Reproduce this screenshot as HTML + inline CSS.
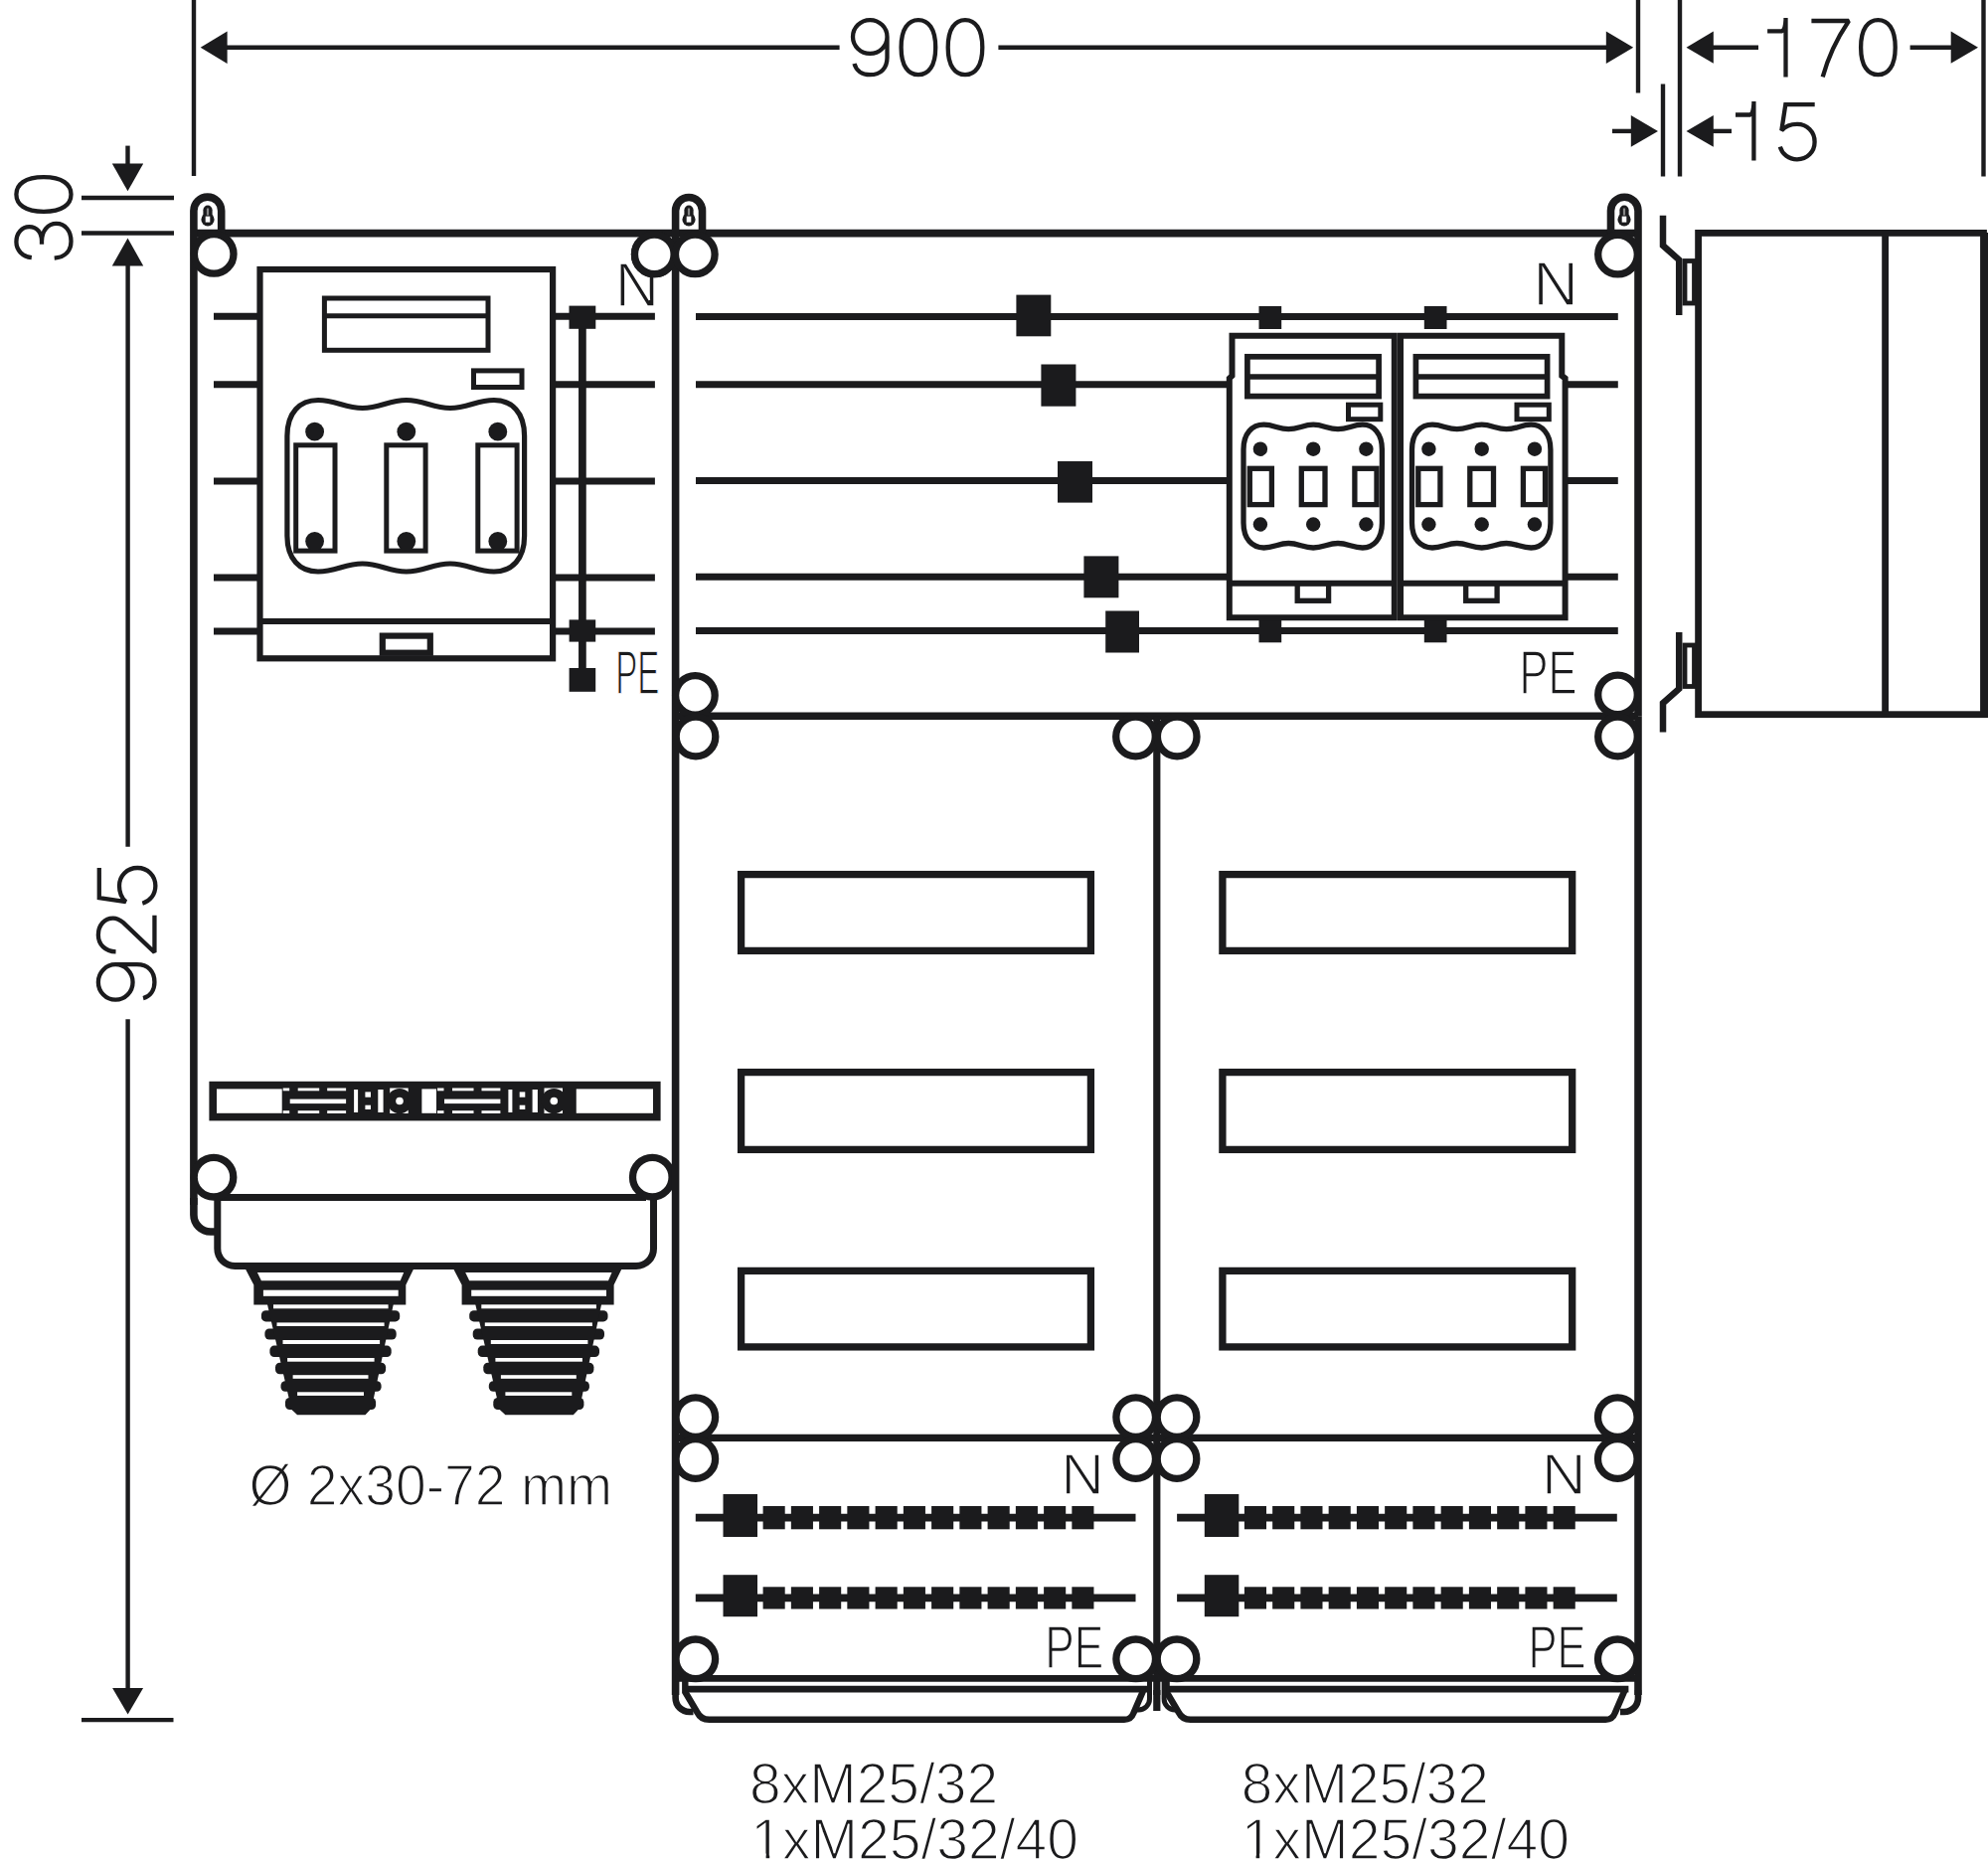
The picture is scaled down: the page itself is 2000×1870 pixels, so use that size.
<!DOCTYPE html>
<html><head><meta charset="utf-8"><style>
html,body{margin:0;padding:0;background:#fff;width:2000px;height:1870px;overflow:hidden}
svg{display:block}
text{font-family:"Liberation Sans",sans-serif;paint-order:normal}
</style></head><body>
<svg width="2000" height="1870" viewBox="0 0 2000 1870" stroke="#1b1b1d" fill="none" stroke-linecap="butt">
<rect x="0" y="0" width="2000" height="1870" fill="#fff" stroke="none"/>
<text x="618.8" y="307.5" font-size="63.114" textLength="44.369" lengthAdjust="spacingAndGlyphs" fill="#1b1b1d" stroke="#fff" stroke-width="1.6">N</text>
<text x="619.2" y="697.6" font-size="62.444" textLength="44.287" lengthAdjust="spacingAndGlyphs" fill="#1b1b1d" stroke="#fff" stroke-width="1.6">PE</text>
<text x="1542.2" y="306.9" font-size="63.114" textLength="45.802" lengthAdjust="spacingAndGlyphs" fill="#1b1b1d" stroke="#fff" stroke-width="1.6">N</text>
<text x="1528.6" y="697.6" font-size="62.444" textLength="58.026" lengthAdjust="spacingAndGlyphs" fill="#1b1b1d" stroke="#fff" stroke-width="1.6">PE</text>
<text x="1067.3" y="1502.7" font-size="58.071" textLength="43.719" lengthAdjust="spacingAndGlyphs" fill="#1b1b1d" stroke="#fff" stroke-width="1.6">N</text>
<text x="1051.3" y="1678.4" font-size="60.906" textLength="59.07" lengthAdjust="spacingAndGlyphs" fill="#1b1b1d" stroke="#fff" stroke-width="1.6">PE</text>
<text x="1550.7" y="1502.7" font-size="58.071" textLength="45.082" lengthAdjust="spacingAndGlyphs" fill="#1b1b1d" stroke="#fff" stroke-width="1.6">N</text>
<text x="1537.5" y="1678.4" font-size="60.906" textLength="58.116" lengthAdjust="spacingAndGlyphs" fill="#1b1b1d" stroke="#fff" stroke-width="1.6">PE</text>
<text x="754.1" y="1814.0" font-size="57.157" textLength="250.006" lengthAdjust="spacingAndGlyphs" fill="#1b1b1d" stroke="#fff" stroke-width="1.6">8xM25/32</text>
<text x="755.2" y="1870.0" font-size="57.177" textLength="329.881" lengthAdjust="spacingAndGlyphs" fill="#1b1b1d" stroke="#fff" stroke-width="1.6">1xM25/32/40</text>
<text x="1248.8" y="1814.0" font-size="57.157" textLength="248.98" lengthAdjust="spacingAndGlyphs" fill="#1b1b1d" stroke="#fff" stroke-width="1.6">8xM25/32</text>
<text x="1248.7" y="1870.0" font-size="57.177" textLength="330.417" lengthAdjust="spacingAndGlyphs" fill="#1b1b1d" stroke="#fff" stroke-width="1.6">1xM25/32/40</text>
<text x="250.4" y="1514.4" font-size="57.979" textLength="365.715" lengthAdjust="spacingAndGlyphs" fill="#1b1b1d" stroke="#fff" stroke-width="1.6">Ø 2x30-72 mm</text>
<rect x="757" y="1864.5" width="13.6" height="6.5" fill="#fff" stroke="none"/>
<rect x="774.2" y="1864.5" width="11.8" height="6.5" fill="#fff" stroke="none"/>
<rect x="1250" y="1864.5" width="13.6" height="6.5" fill="#fff" stroke="none"/>
<rect x="1267.2" y="1864.5" width="13.8" height="6.5" fill="#fff" stroke="none"/>
<path d="M19.55,2.2 C29.1,2.2 36.8,9.8 36.8,19.1 C36.8,28.4 29.1,36 19.55,36 C10,36 2.3,28.4 2.3,19.1 C2.3,9.8 10,2.2 19.55,2.2 Z M36.8,19.1 L36.8,40 C36.8,51 30,57.3 19.5,57.3 C11.5,57.3 5.5,53 3.8,46.2" transform="matrix(1.0,0,0,1.0,855.7,17.9)" stroke-width="4.300" fill="none" stroke-linejoin="miter" stroke-miterlimit="1.6"/>
<path d="M19.5,2.2 C29.5,2.2 36.8,10.8 36.8,29.75 C36.8,48.7 29.5,57.3 19.5,57.3 C9.5,57.3 2.2,48.7 2.2,29.75 C2.2,10.8 9.5,2.2 19.5,2.2 Z" transform="matrix(1.0,0,0,1.0,904.4,17.9)" stroke-width="4.300" fill="none" stroke-linejoin="miter" stroke-miterlimit="1.6"/>
<path d="M19.5,2.2 C29.5,2.2 36.8,10.8 36.8,29.75 C36.8,48.7 29.5,57.3 19.5,57.3 C9.5,57.3 2.2,48.7 2.2,29.75 C2.2,10.8 9.5,2.2 19.5,2.2 Z" transform="matrix(1.0,0,0,1.0,951.5,17.9)" stroke-width="4.300" fill="none" stroke-linejoin="miter" stroke-miterlimit="1.6"/>
<path d="M18.4,0 L18.4,59.5 M0,13.4 L14.6,13.4 C16.6,12.6 18,9 18.4,2" transform="matrix(1.0,0,0,1.0,1778.1,17.9)" stroke-width="4.300" fill="none" stroke-linejoin="miter" stroke-miterlimit="1.6"/>
<path d="M0,3.1 L37.6,3.1 C33,10 20,28 11.3,59.5" transform="matrix(1.0,0,0,1.0,1822.4,17.9)" stroke-width="4.300" fill="none" stroke-linejoin="miter" stroke-miterlimit="1.6"/>
<path d="M19.5,2.2 C29.5,2.2 36.8,10.8 36.8,29.75 C36.8,48.7 29.5,57.3 19.5,57.3 C9.5,57.3 2.2,48.7 2.2,29.75 C2.2,10.8 9.5,2.2 19.5,2.2 Z" transform="matrix(1.0,0,0,1.0,1869.9,17.9)" stroke-width="4.300" fill="none" stroke-linejoin="miter" stroke-miterlimit="1.6"/>
<path d="M18.4,0 L18.4,59.5 M0,13.4 L14.6,13.4 C16.6,12.6 18,9 18.4,2" transform="matrix(1.0,0,0,1.0,1746,102.1)" stroke-width="4.300" fill="none" stroke-linejoin="miter" stroke-miterlimit="1.6"/>
<path d="M37.7,3.1 L8.3,3.1 L4.3,29.3 C8,25 13.5,22.8 20,22.8 C30,22.8 37.6,30.5 37.6,40.6 C37.6,50.7 30,58.2 20,58.2 C11.5,58.2 5,53 2.8,45.5" transform="matrix(1.0,0,0,1.0,1788,102.1)" stroke-width="4.300" fill="none" stroke-linejoin="miter" stroke-miterlimit="1.6"/>
<path d="M3.4,17.6 C4.6,8.2 11,2.2 19.3,2.2 C28.3,2.2 34.4,8 34.4,15.2 C34.4,23 28.6,27.8 20,27.8 L16.8,27.8 M20,27.8 C30.5,27.8 37.7,34 37.7,42.5 C37.7,51.5 30,57.3 19.8,57.3 C10,57.3 3.8,51 2.9,40.5" transform="matrix(0,-1.0,1.0,0,14.2,262.6)" stroke-width="4.300" fill="none" stroke-linejoin="miter" stroke-miterlimit="1.6"/>
<path d="M19.5,2.2 C29.5,2.2 36.8,10.8 36.8,29.75 C36.8,48.7 29.5,57.3 19.5,57.3 C9.5,57.3 2.2,48.7 2.2,29.75 C2.2,10.8 9.5,2.2 19.5,2.2 Z" transform="matrix(0,-1.0,1.0,0,14.2,215)" stroke-width="4.300" fill="none" stroke-linejoin="miter" stroke-miterlimit="1.6"/>
<path d="M19.55,2.2 C29.1,2.2 36.8,9.8 36.8,19.1 C36.8,28.4 29.1,36 19.55,36 C10,36 2.3,28.4 2.3,19.1 C2.3,9.8 10,2.2 19.55,2.2 Z M36.8,19.1 L36.8,40 C36.8,51 30,57.3 19.5,57.3 C11.5,57.3 5.5,53 3.8,46.2" transform="matrix(0,-1.027,1.027,0,96.6,1008)" stroke-width="4.187" fill="none" stroke-linejoin="miter" stroke-miterlimit="1.6"/>
<path d="M2.8,19.4 C3.2,9 10,2.2 19.3,2.2 C29,2.2 35.8,8.5 35.8,16.8 C35.8,21 34.5,23 31.5,26.5 L2.2,57.3 L38.4,57.3" transform="matrix(0,-1.027,1.027,0,96.6,960.3)" stroke-width="4.187" fill="none" stroke-linejoin="miter" stroke-miterlimit="1.6"/>
<path d="M37.7,3.1 L8.3,3.1 L4.3,29.3 C8,25 13.5,22.8 20,22.8 C30,22.8 37.6,30.5 37.6,40.6 C37.6,50.7 30,58.2 20,58.2 C11.5,58.2 5,53 2.8,45.5" transform="matrix(0,-1.027,1.027,0,96.6,911.6)" stroke-width="4.187" fill="none" stroke-linejoin="miter" stroke-miterlimit="1.6"/>
<line x1="195" y1="0" x2="195" y2="177" stroke-width="4.4"/>
<line x1="1648" y1="0" x2="1648" y2="93.5" stroke-width="4.4"/>
<line x1="1690" y1="0" x2="1690" y2="177.5" stroke-width="4.4"/>
<line x1="1995.5" y1="0" x2="1995.5" y2="177.5" stroke-width="4.4"/>
<line x1="1673" y1="84.5" x2="1673" y2="177.5" stroke-width="4.4"/>
<line x1="226" y1="47.8" x2="844.6" y2="47.8" stroke-width="4.4"/>
<line x1="1004.4" y1="47.8" x2="1618" y2="47.8" stroke-width="4.4"/>
<polygon points="201.7,47.8 228.6,31.5 228.6,64.1" fill="#1b1b1d" stroke="none"/>
<polygon points="1643.2,47.8 1615.8,31.5 1615.8,64.1" fill="#1b1b1d" stroke="none"/>
<line x1="1720" y1="47.7" x2="1769" y2="47.7" stroke-width="4.4"/>
<line x1="1921.6" y1="47.7" x2="1965" y2="47.7" stroke-width="4.4"/>
<polygon points="1696.5,47.7 1723.8,31.6 1723.8,63.8" fill="#1b1b1d" stroke="none"/>
<polygon points="1990,47.7 1962.7,31.6 1962.7,63.8" fill="#1b1b1d" stroke="none"/>
<line x1="1622" y1="131.9" x2="1643" y2="131.9" stroke-width="4.4"/>
<line x1="1720" y1="131.9" x2="1742" y2="131.9" stroke-width="4.4"/>
<polygon points="1668,131.9 1640.8,116 1640.8,147.8" fill="#1b1b1d" stroke="none"/>
<polygon points="1696.5,131.9 1723.8,116 1723.8,147.8" fill="#1b1b1d" stroke="none"/>
<line x1="82" y1="199" x2="175" y2="199" stroke-width="4.4"/>
<line x1="82" y1="234.5" x2="175" y2="234.5" stroke-width="4.4"/>
<line x1="128.5" y1="146.6" x2="128.5" y2="166" stroke-width="4.4"/>
<polygon points="128.5,192.3 112.8,164.6 144.2,164.6" fill="#1b1b1d" stroke="none"/>
<polygon points="128.5,239.4 112.8,267.6 144.2,267.6" fill="#1b1b1d" stroke="none"/>
<line x1="128.6" y1="265" x2="128.6" y2="851.7" stroke-width="4.4"/>
<line x1="128.6" y1="1025.2" x2="128.6" y2="1700" stroke-width="4.4"/>
<polygon points="128.6,1724.6 113.1,1698 144.1,1698" fill="#1b1b1d" stroke="none"/>
<line x1="82" y1="1730.1" x2="174.5" y2="1730.1" stroke-width="4.4"/>
<line x1="195" y1="234.6" x2="679.5" y2="234.6" stroke-width="7.6"/>
<path d="M194.9,1212 L194.9,212 A13.9,13.9 0 0 1 222.7,212 L222.7,234.6" stroke-width="7.6" fill="none"/>
<path d="M194.9,1205 L194.9,1222 A17,17 0 0 0 211.9,1239 L219,1239" stroke-width="7.6" fill="none"/>
<line x1="215" y1="318.2" x2="260" y2="318.2" stroke-width="7.0"/>
<line x1="556" y1="318.2" x2="658.9" y2="318.2" stroke-width="7.0"/>
<line x1="215" y1="386.8" x2="260" y2="386.8" stroke-width="7.0"/>
<line x1="556" y1="386.8" x2="658.9" y2="386.8" stroke-width="7.0"/>
<line x1="215" y1="483.9" x2="260" y2="483.9" stroke-width="7.0"/>
<line x1="556" y1="483.9" x2="658.9" y2="483.9" stroke-width="7.0"/>
<line x1="215" y1="580.9" x2="260" y2="580.9" stroke-width="7.0"/>
<line x1="556" y1="580.9" x2="658.9" y2="580.9" stroke-width="7.0"/>
<line x1="215" y1="635.0" x2="260" y2="635.0" stroke-width="7.0"/>
<line x1="556" y1="635.0" x2="658.9" y2="635.0" stroke-width="7.0"/>
<rect x="261.5" y="271" width="294.6" height="391.3" stroke-width="6.2" fill="#fff"/>
<line x1="261.5" y1="625" x2="556.1" y2="625" stroke-width="6.2"/>
<rect x="384.8" y="639.6" width="48.0" height="17.1" stroke-width="6.2" fill="none"/>
<rect x="326.4" y="300" width="164.6" height="52.3" stroke-width="5.0" fill="none"/>
<line x1="326.4" y1="317.8" x2="491" y2="317.8" stroke-width="5.0"/>
<rect x="476.5" y="372.9" width="48.5" height="16.6" stroke-width="5.0" fill="none"/>
<path d="M288.9,438.5 C288.9,415.1 301.5,402.5 320,402.5 C337.88,402.5 346.82,410.5 364.7,410.5 C382.34,410.5 391.16,402.5 408.8,402.5 C426.44,402.5 435.26,410.5 452.9,410.5 C470.53999999999996,410.5 479.36,402.5 497,402.5 C515.0,402.5 527.6,415.1 527.6,438.5 L527.6,539 C527.6,562.4 515.0,575 497,575 C479.36,575.0 470.53999999999996,567.0 452.9,567.0 C435.26,567.0 426.44,575.0 408.8,575.0 C391.16,575.0 382.34,567.0 364.7,567.0 C346.82,567.0 337.88,575.0 320,575.0 C301.5,575 288.9,562.4 288.9,539 Z" stroke-width="5.2" fill="none"/>
<rect x="297.7" y="447.8" width="39.3" height="106.3" stroke-width="5.0" fill="none"/>
<rect x="388.8" y="447.8" width="39.3" height="106.3" stroke-width="5.0" fill="none"/>
<rect x="480.8" y="447.8" width="39.3" height="106.3" stroke-width="5.0" fill="none"/>
<circle cx="316.6" cy="434.2" r="9.4" fill="#1b1b1d" stroke="none"/>
<circle cx="316.6" cy="544.5" r="9.4" fill="#1b1b1d" stroke="none"/>
<circle cx="408.8" cy="434.2" r="9.4" fill="#1b1b1d" stroke="none"/>
<circle cx="408.8" cy="544.5" r="9.4" fill="#1b1b1d" stroke="none"/>
<circle cx="500.8" cy="434.2" r="9.4" fill="#1b1b1d" stroke="none"/>
<circle cx="500.8" cy="544.5" r="9.4" fill="#1b1b1d" stroke="none"/>
<line x1="585.9" y1="318" x2="585.9" y2="684" stroke-width="7.7"/>
<rect x="572.5" y="307.6" width="26.8" height="23.2" fill="#1b1b1d" stroke="none"/>
<rect x="572.6" y="623.4" width="26.6" height="22.2" fill="#1b1b1d" stroke="none"/>
<rect x="572.6" y="672.0" width="26.6" height="23.8" fill="#1b1b1d" stroke="none"/>
<rect x="214.2" y="1091.6" width="446.6" height="32.0" stroke-width="7.6" fill="#fff"/>
<rect x="283.7" y="1094" width="140.5" height="27" fill="#1b1b1d" stroke="none"/>
<rect x="291.7" y="1105.6" width="56.4" height="4.5" fill="#fff" stroke="none"/>
<rect x="284.7" y="1094.5" width="6.5" height="2.8" fill="#fff" stroke="none"/>
<rect x="284.7" y="1117.2" width="6.5" height="2.8" fill="#fff" stroke="none"/>
<rect x="299.7" y="1094.5" width="21.5" height="2.8" fill="#fff" stroke="none"/>
<rect x="299.7" y="1117.2" width="21.5" height="2.8" fill="#fff" stroke="none"/>
<rect x="329.2" y="1094.5" width="18.9" height="2.8" fill="#fff" stroke="none"/>
<rect x="329.2" y="1117.2" width="18.9" height="2.8" fill="#fff" stroke="none"/>
<rect x="356.1" y="1096" width="4.0" height="23" fill="#fff" stroke="none"/>
<rect x="367.4" y="1098.4" width="5.6" height="5.3" fill="#fff" stroke="none"/>
<rect x="367.4" y="1111.7" width="5.6" height="4.3" fill="#fff" stroke="none"/>
<rect x="380.29999999999995" y="1096" width="5.3" height="23" fill="#fff" stroke="none"/>
<rect x="392.2" y="1094.5" width="24.5" height="25.5" fill="#fff" stroke="none"/>
<circle cx="402.0" cy="1107.5" r="12.6" fill="#1b1b1d" stroke="none"/>
<circle cx="402.0" cy="1107.5" r="3.8" fill="#fff" stroke="none"/>
<rect x="410.7" y="1094" width="13.5" height="27" fill="#1b1b1d" stroke="none"/>
<rect x="439.0" y="1094" width="140.5" height="27" fill="#1b1b1d" stroke="none"/>
<rect x="447.0" y="1105.6" width="56.4" height="4.5" fill="#fff" stroke="none"/>
<rect x="440.0" y="1094.5" width="6.5" height="2.8" fill="#fff" stroke="none"/>
<rect x="440.0" y="1117.2" width="6.5" height="2.8" fill="#fff" stroke="none"/>
<rect x="455.0" y="1094.5" width="21.5" height="2.8" fill="#fff" stroke="none"/>
<rect x="455.0" y="1117.2" width="21.5" height="2.8" fill="#fff" stroke="none"/>
<rect x="484.5" y="1094.5" width="18.9" height="2.8" fill="#fff" stroke="none"/>
<rect x="484.5" y="1117.2" width="18.9" height="2.8" fill="#fff" stroke="none"/>
<rect x="511.4" y="1096" width="4.0" height="23" fill="#fff" stroke="none"/>
<rect x="522.7" y="1098.4" width="5.6" height="5.3" fill="#fff" stroke="none"/>
<rect x="522.7" y="1111.7" width="5.6" height="4.3" fill="#fff" stroke="none"/>
<rect x="535.6" y="1096" width="5.3" height="23" fill="#fff" stroke="none"/>
<rect x="547.5" y="1094.5" width="24.5" height="25.5" fill="#fff" stroke="none"/>
<circle cx="557.3" cy="1107.5" r="12.6" fill="#1b1b1d" stroke="none"/>
<circle cx="557.3" cy="1107.5" r="3.8" fill="#fff" stroke="none"/>
<rect x="566.0" y="1094" width="13.5" height="27" fill="#1b1b1d" stroke="none"/>
<path d="M218.8,1204.4 L218.8,1256 A17.5,17.5 0 0 0 236.3,1273.5 L640,1273.5 A17.5,17.5 0 0 0 657.5,1256 L657.5,1204.4" stroke-width="7.0" fill="none"/>
<line x1="218" y1="1204.4" x2="650" y2="1204.4" stroke-width="7.0"/>
<polygon points="244.6,1272 418.3,1272 408.3,1292.5 408.3,1312.5 255.3,1312.5 255.3,1292.5" fill="#1b1b1d" stroke="none"/>
<rect x="262.9" y="1318.3" width="139.3" height="11.1" rx="4.5" fill="#1b1b1d" stroke="none"/>
<rect x="266.4" y="1336.5" width="132.3" height="11.0" rx="4.5" fill="#1b1b1d" stroke="none"/>
<rect x="271.4" y="1353.6" width="122.3" height="11.5" rx="4.5" fill="#1b1b1d" stroke="none"/>
<rect x="277" y="1370.7" width="111.1" height="11.5" rx="4.5" fill="#1b1b1d" stroke="none"/>
<rect x="282.5" y="1389.3" width="101.1" height="10.5" rx="4.5" fill="#1b1b1d" stroke="none"/>
<rect x="287" y="1405.9" width="91.1" height="12.1" rx="4.5" fill="#1b1b1d" stroke="none"/>
<polygon points="268.5,1310 396.2,1310 375.6,1408 291,1408" fill="#1b1b1d" stroke="none"/>
<polygon points="287,1412 378.1,1412 367.5,1423.2 299.1,1423.2" fill="#1b1b1d" stroke="none"/>
<polygon points="258.9,1280.1 406.2,1280.1 402.7,1288.2 262.9,1288.2" fill="#fff" stroke="none"/>
<rect x="264.9" y="1297.7" width="135.8" height="6.1" fill="#fff" stroke="none"/>
<rect x="275" y="1312.3" width="115.6" height="4.0" fill="#fff" stroke="none"/>
<rect x="278.5" y="1330.4" width="108.1" height="3.6" fill="#fff" stroke="none"/>
<rect x="284.5" y="1348" width="97.6" height="4" fill="#fff" stroke="none"/>
<rect x="289.1" y="1366" width="87.5" height="3.7" fill="#fff" stroke="none"/>
<rect x="294.6" y="1383.2" width="75.9" height="3.6" fill="#fff" stroke="none"/>
<rect x="299.1" y="1400.3" width="66.9" height="3.6" fill="#fff" stroke="none"/>
<polygon points="453.9,1272 627.6,1272 617.6,1292.5 617.6,1312.5 464.6,1312.5 464.6,1292.5" fill="#1b1b1d" stroke="none"/>
<rect x="472.2" y="1318.3" width="139.3" height="11.1" rx="4.5" fill="#1b1b1d" stroke="none"/>
<rect x="475.7" y="1336.5" width="132.3" height="11.0" rx="4.5" fill="#1b1b1d" stroke="none"/>
<rect x="480.7" y="1353.6" width="122.3" height="11.5" rx="4.5" fill="#1b1b1d" stroke="none"/>
<rect x="486.3" y="1370.7" width="111.1" height="11.5" rx="4.5" fill="#1b1b1d" stroke="none"/>
<rect x="491.8" y="1389.3" width="101.1" height="10.5" rx="4.5" fill="#1b1b1d" stroke="none"/>
<rect x="496.3" y="1405.9" width="91.1" height="12.1" rx="4.5" fill="#1b1b1d" stroke="none"/>
<polygon points="477.8,1310 605.5,1310 584.9000000000001,1408 500.3,1408" fill="#1b1b1d" stroke="none"/>
<polygon points="496.3,1412 587.4000000000001,1412 576.8,1423.2 508.40000000000003,1423.2" fill="#1b1b1d" stroke="none"/>
<polygon points="468.2,1280.1 615.5,1280.1 612.0,1288.2 472.2,1288.2" fill="#fff" stroke="none"/>
<rect x="474.2" y="1297.7" width="135.8" height="6.1" fill="#fff" stroke="none"/>
<rect x="484.3" y="1312.3" width="115.6" height="4.0" fill="#fff" stroke="none"/>
<rect x="487.8" y="1330.4" width="108.1" height="3.6" fill="#fff" stroke="none"/>
<rect x="493.8" y="1348" width="97.6" height="4" fill="#fff" stroke="none"/>
<rect x="498.40000000000003" y="1366" width="87.5" height="3.7" fill="#fff" stroke="none"/>
<rect x="503.90000000000003" y="1383.2" width="75.9" height="3.6" fill="#fff" stroke="none"/>
<rect x="508.40000000000003" y="1400.3" width="66.9" height="3.6" fill="#fff" stroke="none"/>
<circle cx="215.2" cy="255.4" r="19.8" fill="#fff" stroke-width="7.3"/>
<circle cx="658.3" cy="255.9" r="19.8" fill="#fff" stroke-width="7.3"/>
<circle cx="215.0" cy="1184.2" r="19.8" fill="#fff" stroke-width="7.3"/>
<circle cx="656.3" cy="1184.2" r="19.8" fill="#fff" stroke-width="7.3"/>
<line x1="679.5" y1="234.6" x2="1648" y2="234.6" stroke-width="7.6"/>
<path d="M679.6,1705 L679.6,212 A13.45,13.45 0 0 1 706.5,212 L706.5,234.6" stroke-width="7.6" fill="none"/>
<path d="M1648,720.3 L1648,212 A13.75,13.75 0 0 0 1620.5,212 L1620.5,234.6" stroke-width="7.6" fill="none"/>
<line x1="679.5" y1="720.3" x2="1648" y2="720.3" stroke-width="7.6"/>
<line x1="700" y1="318.6" x2="1627.8" y2="318.6" stroke-width="7.0"/>
<line x1="700" y1="634.5" x2="1627.8" y2="634.5" stroke-width="7.0"/>
<line x1="700" y1="386.7" x2="1236" y2="386.7" stroke-width="7.0"/>
<line x1="1576" y1="386.7" x2="1627.8" y2="386.7" stroke-width="7.0"/>
<line x1="700" y1="483.5" x2="1236" y2="483.5" stroke-width="7.0"/>
<line x1="1576" y1="483.5" x2="1627.8" y2="483.5" stroke-width="7.0"/>
<line x1="700" y1="580.3" x2="1236" y2="580.3" stroke-width="7.0"/>
<line x1="1576" y1="580.3" x2="1627.8" y2="580.3" stroke-width="7.0"/>
<rect x="1022.4" y="296.6" width="34.9" height="41.7" fill="#1b1b1d" stroke="none"/>
<rect x="1047.4" y="366.5" width="35.0" height="42.2" fill="#1b1b1d" stroke="none"/>
<rect x="1064" y="464" width="35" height="41.6" fill="#1b1b1d" stroke="none"/>
<rect x="1090.4" y="559.4" width="35.0" height="41.9" fill="#1b1b1d" stroke="none"/>
<rect x="1112.2" y="614.5" width="33.8" height="42.0" fill="#1b1b1d" stroke="none"/>
<rect x="1266.5" y="308" width="22.7" height="23" fill="#1b1b1d" stroke="none"/>
<rect x="1266.5" y="623.3" width="22.7" height="23.0" fill="#1b1b1d" stroke="none"/>
<rect x="1432.8" y="308" width="22.7" height="23" fill="#1b1b1d" stroke="none"/>
<rect x="1432.8" y="623.3" width="22.7" height="23.0" fill="#1b1b1d" stroke="none"/>
<path d="M1402.8,337.7 L1239.5,337.7 L1239.5,378 L1236.8,380.5 L1236.8,621.2 L1402.8,621.2 Z" stroke-width="6.0" fill="#fff"/>
<line x1="1236.8" y1="586.7" x2="1402.8" y2="586.7" stroke-width="6.0"/>
<rect x="1305.2" y="586.7" width="31.4" height="17.6" stroke-width="5.3" fill="none"/>
<rect x="1254.9" y="358.8" width="132.2" height="39.8" stroke-width="5.7" fill="none"/>
<line x1="1254.9" y1="379" x2="1387.1" y2="379" stroke-width="5.7"/>
<rect x="1356.5" y="407.2" width="32.3" height="14.5" stroke-width="5.0" fill="none"/>
<path d="M1251,452.2 C1251,435.95 1259.75,427.2 1271.5,427.2 C1281.42,427.2 1286.3799999999999,431.7 1296.3,431.7 C1306.26,431.7 1311.24,427.2 1321.2,427.2 C1331.1200000000001,427.2 1336.08,431.7 1346,431.7 C1355.92,431.7 1360.8799999999999,427.2 1370.8,427.2 C1381.65,427.2 1390.4,435.95 1390.4,452.2 L1390.4,526.0 C1390.4,542.25 1381.65,551.0 1370.8,551.0 C1360.8799999999999,551.0 1355.92,546.5 1346,546.5 C1336.08,546.5 1331.1200000000001,551.0 1321.2,551.0 C1311.24,551.0 1306.26,546.5 1296.3,546.5 C1286.3799999999999,546.5 1281.42,551.0 1271.5,551.0 C1259.75,551.0 1251,542.25 1251,526.0 Z" stroke-width="5.3" fill="none"/>
<rect x="1257.3" y="471.3" width="22.1" height="36.3" stroke-width="5.3" fill="none"/>
<rect x="1309.3" y="471.3" width="23.7" height="36.3" stroke-width="5.3" fill="none"/>
<rect x="1362.9" y="471.3" width="22.1" height="36.3" stroke-width="5.3" fill="none"/>
<circle cx="1267.9" cy="451.7" r="7.2" fill="#1b1b1d" stroke="none"/>
<circle cx="1267.9" cy="527.5" r="7.2" fill="#1b1b1d" stroke="none"/>
<circle cx="1321.2" cy="451.7" r="7.2" fill="#1b1b1d" stroke="none"/>
<circle cx="1321.2" cy="527.5" r="7.2" fill="#1b1b1d" stroke="none"/>
<circle cx="1374.4" cy="451.7" r="7.2" fill="#1b1b1d" stroke="none"/>
<circle cx="1374.4" cy="527.5" r="7.2" fill="#1b1b1d" stroke="none"/>
<path d="M1409,337.7 L1571.3,337.7 L1571.3,378 L1574.6,380.5 L1574.6,621.2 L1409,621.2 Z" stroke-width="6.0" fill="#fff"/>
<line x1="1409" y1="586.7" x2="1574.6" y2="586.7" stroke-width="6.0"/>
<rect x="1474.7" y="586.7" width="31.4" height="17.6" stroke-width="5.3" fill="none"/>
<rect x="1424.4" y="358.8" width="132.2" height="39.8" stroke-width="5.7" fill="none"/>
<line x1="1424.4" y1="379" x2="1556.6" y2="379" stroke-width="5.7"/>
<rect x="1526.0" y="407.2" width="32.3" height="14.5" stroke-width="5.0" fill="none"/>
<path d="M1420.5,452.2 C1420.5,435.95 1429.25,427.2 1441.0,427.2 C1450.92,427.2 1455.8799999999999,431.7 1465.8,431.7 C1475.76,431.7 1480.74,427.2 1490.7,427.2 C1500.6200000000001,427.2 1505.58,431.7 1515.5,431.7 C1525.42,431.7 1530.3799999999999,427.2 1540.3,427.2 C1551.15,427.2 1559.9,435.95 1559.9,452.2 L1559.9,526.0 C1559.9,542.25 1551.15,551.0 1540.3,551.0 C1530.3799999999999,551.0 1525.42,546.5 1515.5,546.5 C1505.58,546.5 1500.6200000000001,551.0 1490.7,551.0 C1480.74,551.0 1475.76,546.5 1465.8,546.5 C1455.8799999999999,546.5 1450.92,551.0 1441.0,551.0 C1429.25,551.0 1420.5,542.25 1420.5,526.0 Z" stroke-width="5.3" fill="none"/>
<rect x="1426.8" y="471.3" width="22.1" height="36.3" stroke-width="5.3" fill="none"/>
<rect x="1478.8" y="471.3" width="23.7" height="36.3" stroke-width="5.3" fill="none"/>
<rect x="1532.4" y="471.3" width="22.1" height="36.3" stroke-width="5.3" fill="none"/>
<circle cx="1437.4" cy="451.7" r="7.2" fill="#1b1b1d" stroke="none"/>
<circle cx="1437.4" cy="527.5" r="7.2" fill="#1b1b1d" stroke="none"/>
<circle cx="1490.7" cy="451.7" r="7.2" fill="#1b1b1d" stroke="none"/>
<circle cx="1490.7" cy="527.5" r="7.2" fill="#1b1b1d" stroke="none"/>
<circle cx="1543.9" cy="451.7" r="7.2" fill="#1b1b1d" stroke="none"/>
<circle cx="1543.9" cy="527.5" r="7.2" fill="#1b1b1d" stroke="none"/>
<circle cx="658.3" cy="255.9" r="19.8" fill="#fff" stroke-width="7.3"/>
<circle cx="699.3" cy="255.9" r="19.8" fill="#fff" stroke-width="7.3"/>
<circle cx="1627.5" cy="256.1" r="19.8" fill="#fff" stroke-width="7.3"/>
<circle cx="699.4" cy="699.4" r="19.8" fill="#fff" stroke-width="7.3"/>
<circle cx="1627.5" cy="698.9" r="19.8" fill="#fff" stroke-width="7.3"/>
<line x1="1163.8" y1="720.3" x2="1163.8" y2="1705" stroke-width="7.2"/>
<line x1="1648" y1="720.3" x2="1648" y2="1705" stroke-width="7.6"/>
<line x1="679.5" y1="1446.4" x2="1648" y2="1446.4" stroke-width="7.2"/>
<line x1="679.5" y1="1688.4" x2="1648" y2="1688.4" stroke-width="6.8"/>
<rect x="745.6" y="879.6" width="351.8" height="76.8" stroke-width="7.3" fill="none"/>
<rect x="745.6" y="1078.6" width="351.8" height="77.8" stroke-width="7.3" fill="none"/>
<rect x="745.6" y="1278.4" width="351.8" height="76.5" stroke-width="7.3" fill="none"/>
<line x1="699.8" y1="1526.6" x2="1142.5" y2="1526.6" stroke-width="7.6"/>
<line x1="699.8" y1="1607.4" x2="1142.5" y2="1607.4" stroke-width="7.6"/>
<rect x="727.5" y="1503" width="34.5" height="43" fill="#1b1b1d" stroke="none"/>
<rect x="727.5" y="1584.2" width="34.5" height="42.0" fill="#1b1b1d" stroke="none"/>
<rect x="767.6" y="1515" width="22.1" height="23.3" fill="#1b1b1d" stroke="none"/>
<rect x="767.6" y="1596.3" width="22.1" height="22.2" fill="#1b1b1d" stroke="none"/>
<rect x="795.85" y="1515" width="22.1" height="23.3" fill="#1b1b1d" stroke="none"/>
<rect x="795.85" y="1596.3" width="22.1" height="22.2" fill="#1b1b1d" stroke="none"/>
<rect x="824.1" y="1515" width="22.1" height="23.3" fill="#1b1b1d" stroke="none"/>
<rect x="824.1" y="1596.3" width="22.1" height="22.2" fill="#1b1b1d" stroke="none"/>
<rect x="852.35" y="1515" width="22.1" height="23.3" fill="#1b1b1d" stroke="none"/>
<rect x="852.35" y="1596.3" width="22.1" height="22.2" fill="#1b1b1d" stroke="none"/>
<rect x="880.6" y="1515" width="22.1" height="23.3" fill="#1b1b1d" stroke="none"/>
<rect x="880.6" y="1596.3" width="22.1" height="22.2" fill="#1b1b1d" stroke="none"/>
<rect x="908.85" y="1515" width="22.1" height="23.3" fill="#1b1b1d" stroke="none"/>
<rect x="908.85" y="1596.3" width="22.1" height="22.2" fill="#1b1b1d" stroke="none"/>
<rect x="937.1" y="1515" width="22.1" height="23.3" fill="#1b1b1d" stroke="none"/>
<rect x="937.1" y="1596.3" width="22.1" height="22.2" fill="#1b1b1d" stroke="none"/>
<rect x="965.35" y="1515" width="22.1" height="23.3" fill="#1b1b1d" stroke="none"/>
<rect x="965.35" y="1596.3" width="22.1" height="22.2" fill="#1b1b1d" stroke="none"/>
<rect x="993.6" y="1515" width="22.1" height="23.3" fill="#1b1b1d" stroke="none"/>
<rect x="993.6" y="1596.3" width="22.1" height="22.2" fill="#1b1b1d" stroke="none"/>
<rect x="1021.85" y="1515" width="22.1" height="23.3" fill="#1b1b1d" stroke="none"/>
<rect x="1021.85" y="1596.3" width="22.1" height="22.2" fill="#1b1b1d" stroke="none"/>
<rect x="1050.1" y="1515" width="22.1" height="23.3" fill="#1b1b1d" stroke="none"/>
<rect x="1050.1" y="1596.3" width="22.1" height="22.2" fill="#1b1b1d" stroke="none"/>
<rect x="1078.35" y="1515" width="22.1" height="23.3" fill="#1b1b1d" stroke="none"/>
<rect x="1078.35" y="1596.3" width="22.1" height="22.2" fill="#1b1b1d" stroke="none"/>
<path d="M689.3,1699.2 L1154.1,1699.2" stroke-width="6.8" fill="none"/>
<path d="M689.3,1689 L689.3,1702 L701.5,1722.5 Q705,1729.8 713.5,1729.8 L1131,1729.8 Q1138,1729.8 1140.5,1723 L1149.5,1702 L1149.5,1696" stroke-width="6.4" fill="none"/>
<rect x="1229.9" y="879.6" width="351.8" height="76.8" stroke-width="7.3" fill="none"/>
<rect x="1229.9" y="1078.6" width="351.8" height="77.8" stroke-width="7.3" fill="none"/>
<rect x="1229.9" y="1278.4" width="351.8" height="76.5" stroke-width="7.3" fill="none"/>
<line x1="1184.1" y1="1526.6" x2="1626.8" y2="1526.6" stroke-width="7.6"/>
<line x1="1184.1" y1="1607.4" x2="1626.8" y2="1607.4" stroke-width="7.6"/>
<rect x="1211.8" y="1503" width="34.5" height="43" fill="#1b1b1d" stroke="none"/>
<rect x="1211.8" y="1584.2" width="34.5" height="42.0" fill="#1b1b1d" stroke="none"/>
<rect x="1251.9" y="1515" width="22.1" height="23.3" fill="#1b1b1d" stroke="none"/>
<rect x="1251.9" y="1596.3" width="22.1" height="22.2" fill="#1b1b1d" stroke="none"/>
<rect x="1280.15" y="1515" width="22.1" height="23.3" fill="#1b1b1d" stroke="none"/>
<rect x="1280.15" y="1596.3" width="22.1" height="22.2" fill="#1b1b1d" stroke="none"/>
<rect x="1308.4" y="1515" width="22.1" height="23.3" fill="#1b1b1d" stroke="none"/>
<rect x="1308.4" y="1596.3" width="22.1" height="22.2" fill="#1b1b1d" stroke="none"/>
<rect x="1336.65" y="1515" width="22.1" height="23.3" fill="#1b1b1d" stroke="none"/>
<rect x="1336.65" y="1596.3" width="22.1" height="22.2" fill="#1b1b1d" stroke="none"/>
<rect x="1364.9" y="1515" width="22.1" height="23.3" fill="#1b1b1d" stroke="none"/>
<rect x="1364.9" y="1596.3" width="22.1" height="22.2" fill="#1b1b1d" stroke="none"/>
<rect x="1393.15" y="1515" width="22.1" height="23.3" fill="#1b1b1d" stroke="none"/>
<rect x="1393.15" y="1596.3" width="22.1" height="22.2" fill="#1b1b1d" stroke="none"/>
<rect x="1421.4" y="1515" width="22.1" height="23.3" fill="#1b1b1d" stroke="none"/>
<rect x="1421.4" y="1596.3" width="22.1" height="22.2" fill="#1b1b1d" stroke="none"/>
<rect x="1449.65" y="1515" width="22.1" height="23.3" fill="#1b1b1d" stroke="none"/>
<rect x="1449.65" y="1596.3" width="22.1" height="22.2" fill="#1b1b1d" stroke="none"/>
<rect x="1477.9" y="1515" width="22.1" height="23.3" fill="#1b1b1d" stroke="none"/>
<rect x="1477.9" y="1596.3" width="22.1" height="22.2" fill="#1b1b1d" stroke="none"/>
<rect x="1506.15" y="1515" width="22.1" height="23.3" fill="#1b1b1d" stroke="none"/>
<rect x="1506.15" y="1596.3" width="22.1" height="22.2" fill="#1b1b1d" stroke="none"/>
<rect x="1534.4" y="1515" width="22.1" height="23.3" fill="#1b1b1d" stroke="none"/>
<rect x="1534.4" y="1596.3" width="22.1" height="22.2" fill="#1b1b1d" stroke="none"/>
<rect x="1562.65" y="1515" width="22.1" height="23.3" fill="#1b1b1d" stroke="none"/>
<rect x="1562.65" y="1596.3" width="22.1" height="22.2" fill="#1b1b1d" stroke="none"/>
<path d="M1173.6,1699.2 L1638.3999999999999,1699.2" stroke-width="6.8" fill="none"/>
<path d="M1173.6,1689 L1173.6,1702 L1185.8,1722.5 Q1189.3,1729.8 1197.8,1729.8 L1615.3,1729.8 Q1622.3,1729.8 1624.8,1723 L1633.8,1702 L1633.8,1696" stroke-width="6.4" fill="none"/>
<path d="M679.6,1700 L679.6,1708 A14,14 0 0 0 693.6,1722 L697.5,1722" stroke-width="6.6" fill="none"/>
<path d="M1648,1700 L1648,1708 A14,14 0 0 1 1634,1722 L1630,1722" stroke-width="6.6" fill="none"/>
<path d="M1156.5,1689 L1156.5,1709 A11,11 0 0 1 1145.5,1720 L1143,1720" stroke-width="5.0" fill="none"/>
<path d="M1171.1,1689 L1171.1,1709 A11,11 0 0 0 1182.1,1720 L1184.6,1720" stroke-width="5.0" fill="none"/>
<line x1="1163.8" y1="1700" x2="1163.8" y2="1721" stroke-width="7.2"/>
<circle cx="700.0" cy="741" r="19.8" fill="#fff" stroke-width="7.3"/>
<circle cx="1142.5" cy="741" r="19.8" fill="#fff" stroke-width="7.3"/>
<circle cx="1184.2" cy="741" r="19.8" fill="#fff" stroke-width="7.3"/>
<circle cx="1627.5" cy="741" r="19.8" fill="#fff" stroke-width="7.3"/>
<circle cx="699.8" cy="1425.6" r="19.8" fill="#fff" stroke-width="7.3"/>
<circle cx="699.8" cy="1467.5" r="19.8" fill="#fff" stroke-width="7.3"/>
<circle cx="699.8" cy="1668.8" r="19.8" fill="#fff" stroke-width="7.3"/>
<circle cx="1142.7" cy="1425.6" r="19.8" fill="#fff" stroke-width="7.3"/>
<circle cx="1142.7" cy="1467.5" r="19.8" fill="#fff" stroke-width="7.3"/>
<circle cx="1142.7" cy="1668.8" r="19.8" fill="#fff" stroke-width="7.3"/>
<circle cx="1184.0" cy="1425.6" r="19.8" fill="#fff" stroke-width="7.3"/>
<circle cx="1184.0" cy="1467.5" r="19.8" fill="#fff" stroke-width="7.3"/>
<circle cx="1184.0" cy="1668.8" r="19.8" fill="#fff" stroke-width="7.3"/>
<circle cx="1627.3" cy="1425.6" r="19.8" fill="#fff" stroke-width="7.3"/>
<circle cx="1627.3" cy="1467.5" r="19.8" fill="#fff" stroke-width="7.3"/>
<circle cx="1627.3" cy="1668.8" r="19.8" fill="#fff" stroke-width="7.3"/>
<rect x="1708.6" y="234.4" width="286.9" height="484.3" stroke-width="6.8" fill="none"/>
<line x1="1896.6" y1="234.4" x2="1896.6" y2="718.7" stroke-width="6.8"/>
<line x1="1996.5" y1="234" x2="1996.5" y2="722" stroke-width="7"/>
<path d="M1673,216.7 L1673,247 L1689.2,261.4 L1689.2,317" stroke-width="6.5" fill="none"/>
<rect x="1695" y="262.5" width="9.5" height="42.5" stroke-width="4.8" fill="none"/>
<path d="M1673,736.4 L1673,707.3 L1689.2,692.8 L1689.2,636" stroke-width="6.5" fill="none"/>
<rect x="1695" y="649" width="9.5" height="41.5" stroke-width="4.8" fill="none"/>
<rect x="204.4" y="206.6" width="9.2" height="14" rx="4.6" fill="#1b1b1d" stroke="none"/>
<circle cx="209.0" cy="220.8" r="6.6" fill="#1b1b1d" stroke="none"/>
<rect x="206.7" y="217.6" width="4.6" height="6.0" fill="#fff" stroke="none"/>
<rect x="207.9" y="209.5" width="2.2" height="7" fill="#888" stroke="none"/>
<rect x="688.4" y="206.6" width="9.2" height="14" rx="4.6" fill="#1b1b1d" stroke="none"/>
<circle cx="693.0" cy="220.8" r="6.6" fill="#1b1b1d" stroke="none"/>
<rect x="690.7" y="217.6" width="4.6" height="6.0" fill="#fff" stroke="none"/>
<rect x="691.9" y="209.5" width="2.2" height="7" fill="#888" stroke="none"/>
<rect x="1629.4" y="206.6" width="9.2" height="14" rx="4.6" fill="#1b1b1d" stroke="none"/>
<circle cx="1634.0" cy="220.8" r="6.6" fill="#1b1b1d" stroke="none"/>
<rect x="1631.7" y="217.6" width="4.6" height="6.0" fill="#fff" stroke="none"/>
<rect x="1632.9" y="209.5" width="2.2" height="7" fill="#888" stroke="none"/>
</svg>
</body></html>
